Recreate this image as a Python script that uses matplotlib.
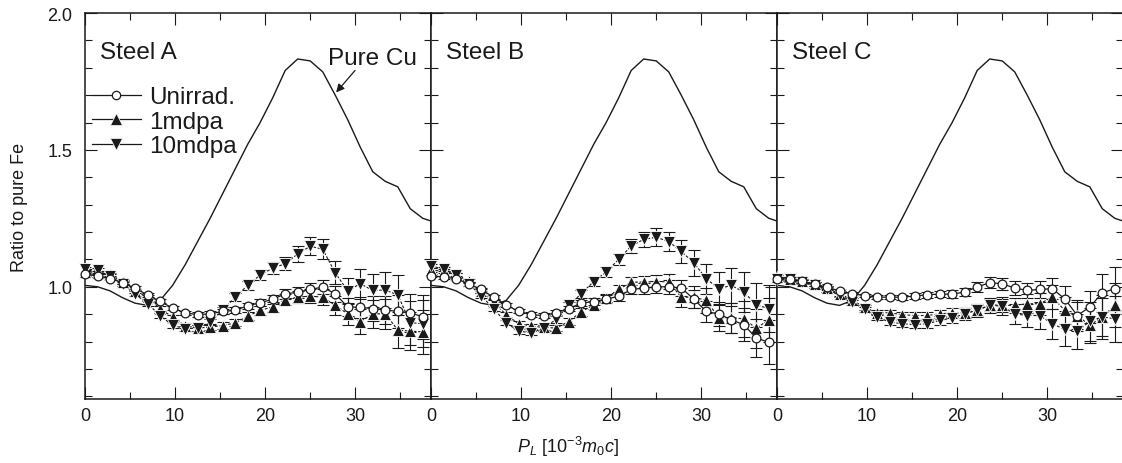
import matplotlib
matplotlib.use("Agg")
import matplotlib.pyplot as plt
from matplotlib.lines import Line2D
from matplotlib.ticker import MultipleLocator

plt.rcParams["font.family"] = ["Liberation Sans", "DejaVu Sans"]
plt.rcParams["mathtext.fontset"] = "custom"
plt.rcParams["mathtext.rm"] = "Liberation Sans"
plt.rcParams["mathtext.it"] = "Liberation Sans:italic"

# momentum grid, 10^-3 m0c
p_l = [0.0, 1.39, 2.78, 4.17, 5.56, 6.95, 8.34, 9.73, 11.12, 12.51, 13.9, 15.29,
       16.68, 18.07, 19.46, 20.85, 22.24, 23.63, 25.02, 26.41, 27.8, 29.19,
       30.58, 31.97, 33.36, 34.75, 36.14, 37.53]
p_l_cu = p_l + [38.92]

pure_cu = [1.005, 1.0, 0.985, 0.96, 0.94, 0.932, 0.95, 1.005, 1.08, 1.165, 1.25,
           1.34, 1.43, 1.52, 1.60, 1.69, 1.79, 1.832, 1.825, 1.785, 1.70, 1.61,
           1.51, 1.42, 1.385, 1.365, 1.285, 1.25, 1.235]

# Steel A
a_unirr = [1.045, 1.04, 1.03, 1.015, 0.995, 0.97, 0.947, 0.922, 0.905, 0.898,
           0.901, 0.91, 0.914, 0.93, 0.942, 0.954, 0.974, 0.98, 0.99, 0.999,
           0.974, 0.926, 0.925, 0.92, 0.915, 0.91, 0.905, 0.89]
a_1mdpa = [1.055, 1.052, 1.045, 1.017, 0.985, 0.962, 0.92, 0.889, 0.857, 0.849,
           0.853, 0.858, 0.868, 0.892, 0.914, 0.926, 0.953, 0.962, 0.966, 0.962,
           0.932, 0.901, 0.873, 0.901, 0.901, 0.842, 0.838, 0.835]
a_10mdpa = [1.066, 1.06, 1.039, 1.011, 0.974, 0.938, 0.895, 0.859, 0.847, 0.849,
            0.871, 0.914, 0.962, 1.005, 1.043, 1.068, 1.084, 1.12, 1.148, 1.137,
            1.051, 0.985, 1.011, 0.987, 0.988, 0.97, 0.869, 0.865]

# Steel B
b_unirr = [1.041, 1.035, 1.03, 1.01, 0.99, 0.962, 0.934, 0.91, 0.898, 0.895,
           0.905, 0.92, 0.94, 0.946, 0.955, 0.965, 0.99, 0.995, 1.0, 1.0,
           0.996, 0.955, 0.91, 0.9, 0.88, 0.861, 0.813, 0.797]
b_1mdpa = [1.06, 1.058, 1.045, 1.02, 0.985, 0.944, 0.898, 0.865, 0.855, 0.852,
           0.849, 0.873, 0.908, 0.934, 0.959, 0.99, 1.017, 1.017, 1.019, 1.018,
           0.962, 0.962, 0.95, 0.887, 0.887, 0.883, 0.848, 0.88]
b_10mdpa = [1.075, 1.066, 1.044, 1.011, 0.968, 0.92, 0.869, 0.838, 0.832, 0.849,
            0.881, 0.932, 0.974, 1.019, 1.054, 1.1, 1.149, 1.173, 1.181, 1.165,
            1.129, 1.088, 1.029, 0.993, 1.005, 0.981, 0.934, 0.92]

# Steel C
c_unirr = [1.03, 1.028, 1.02, 1.01, 0.998, 0.985, 0.974, 0.968, 0.962, 0.962,
           0.962, 0.966, 0.971, 0.973, 0.973, 0.981, 0.999, 1.015, 1.011, 0.995,
           0.987, 0.99, 0.993, 0.956, 0.895, 0.926, 0.978, 0.993]
c_1mdpa = [1.035, 1.03, 1.02, 1.01, 0.995, 0.975, 0.95, 0.925, 0.905, 0.905,
           0.898, 0.895, 0.895, 0.901, 0.905, 0.905, 0.914, 0.934, 0.932, 0.932,
           0.938, 0.938, 0.962, 0.914, 0.895, 0.859, 0.89, 0.932]
c_10mdpa = [1.029, 1.027, 1.017, 1.005, 0.99, 0.971, 0.944, 0.917, 0.889, 0.871,
            0.865, 0.862, 0.865, 0.877, 0.886, 0.901, 0.914, 0.932, 0.929, 0.901,
            0.895, 0.895, 0.865, 0.844, 0.837, 0.874, 0.89, 0.883]

# error bars (same profile for each dose in every steel)
err_unirr = [0.006, 0.006, 0.006, 0.006, 0.006, 0.007, 0.007, 0.007, 0.008, 0.008,
             0.009, 0.01, 0.011, 0.012, 0.014, 0.016, 0.018, 0.02, 0.022, 0.025,
             0.028, 0.032, 0.038, 0.045, 0.05, 0.06, 0.07, 0.08]
err_1mdpa = [0.007, 0.007, 0.007, 0.007, 0.008, 0.008, 0.008, 0.009, 0.009, 0.01,
             0.011, 0.012, 0.013, 0.015, 0.016, 0.018, 0.02, 0.022, 0.025, 0.028,
             0.035, 0.04, 0.045, 0.05, 0.055, 0.065, 0.07, 0.08]
err_10mdpa = [0.008, 0.008, 0.008, 0.008, 0.009, 0.009, 0.009, 0.01, 0.01, 0.011,
              0.012, 0.013, 0.015, 0.017, 0.019, 0.021, 0.024, 0.028, 0.032, 0.036,
              0.042, 0.048, 0.055, 0.06, 0.065, 0.072, 0.08, 0.085]

panels = [
    ("Steel A", a_unirr, a_1mdpa, a_10mdpa),
    ("Steel B", b_unirr, b_1mdpa, b_10mdpa),
    ("Steel C", c_unirr, c_1mdpa, c_10mdpa),
]

INK = "#1a1a1a"
W, H = 1122, 464

fig = plt.figure(figsize=(W / 100, H / 100), dpi=100)

for k, (name, unirr, d1, d10) in enumerate(panels):
    ax = fig.add_axes([(85 + 346 * k) / W, 64 / H, 346 / W, 386 / H])

    ax.plot(p_l_cu, pure_cu, color=INK, lw=1.0, zorder=2)

    # error bars first, markers on top with white halo
    for vals, err in ((unirr, err_unirr), (d1, err_1mdpa), (d10, err_10mdpa)):
        ax.errorbar(p_l, vals, yerr=err, fmt="none", ecolor=INK,
                    elinewidth=0.8, capsize=4.5, capthick=0.8, zorder=3)

    ax.plot(p_l, d1, color=INK, lw=0.8, ls=(0, (2.5, 1.5)), marker="^", ms=8.5,
            mfc=INK, mec="white", mew=0.6, zorder=4, clip_on=False)
    ax.plot(p_l, d10, color=INK, lw=0.8, ls=(0, (2.5, 1.5)), marker="v", ms=8.5,
            mfc=INK, mec="white", mew=0.6, zorder=5, clip_on=False)
    ax.plot(p_l, unirr, color=INK, lw=0.9, marker="o", ms=6.3,
            mfc="white", mec=INK, mew=0.9, zorder=6, clip_on=False)

    ax.set_xlim(0, 38.44)
    ax.set_ylim(0.59, 2.0)
    ax.set_xticks([0, 10, 20, 30])
    ax.xaxis.set_minor_locator(MultipleLocator(5))
    ax.set_yticks([1.0, 1.5, 2.0])
    ax.yaxis.set_minor_locator(MultipleLocator(0.1))
    ax.tick_params(which="both", direction="in", top=True, right=True,
                   width=0.8, color=INK, labelsize=13, labelcolor=INK)
    ax.tick_params(which="major", length=8.5)
    ax.tick_params(which="minor", length=5)
    ax.tick_params(axis="x", pad=6)
    ax.tick_params(axis="y", pad=9)
    if k > 0:
        ax.tick_params(axis="y", labelleft=False)
    for sp in ax.spines.values():
        sp.set_linewidth(1.1)
        sp.set_color(INK)

    ax.text(0.043, 0.9, name, transform=ax.transAxes, fontsize=17.5,
            va="center", ha="left", color=INK)

    if k == 0:
        ax.set_ylabel("Ratio to pure Fe", fontsize=13, color=INK, labelpad=14)
        ax.text(0.702, 0.884, "Pure Cu", transform=ax.transAxes, fontsize=17.5,
                va="center", ha="left", color=INK)
        ax.annotate("", xy=(27.9, 1.71), xytext=(30.0, 1.79),
                    arrowprops=dict(arrowstyle="-|>", lw=0.9, color=INK,
                                    mutation_scale=12, shrinkA=0, shrinkB=0))
        handles = [
            Line2D([], [], color=INK, lw=0.9, marker="o", ms=6, mfc="white",
                   mec=INK, mew=0.9),
            Line2D([], [], color=INK, lw=0.9, marker="^", ms=8, mfc=INK,
                   mec="white", mew=0.5),
            Line2D([], [], color=INK, lw=0.9, marker="v", ms=8, mfc=INK,
                   mec="white", mew=0.5),
        ]
        ax.legend(handles, ["Unirrad.", "1mdpa", "10mdpa"], loc="upper left",
                  bbox_to_anchor=(0.02, 0.81), frameon=False, fontsize=17.5,
                  handlelength=2.0, handletextpad=0.35, labelspacing=0.1,
                  borderpad=0, borderaxespad=0, labelcolor=INK)

fig.text(568 / W, 1 - 447 / H, r"$P_L$ [10$^{-3}$$m_0c$]", fontsize=13,
         ha="center", va="center", color=INK)

fig.savefig("out.png", dpi=100)
